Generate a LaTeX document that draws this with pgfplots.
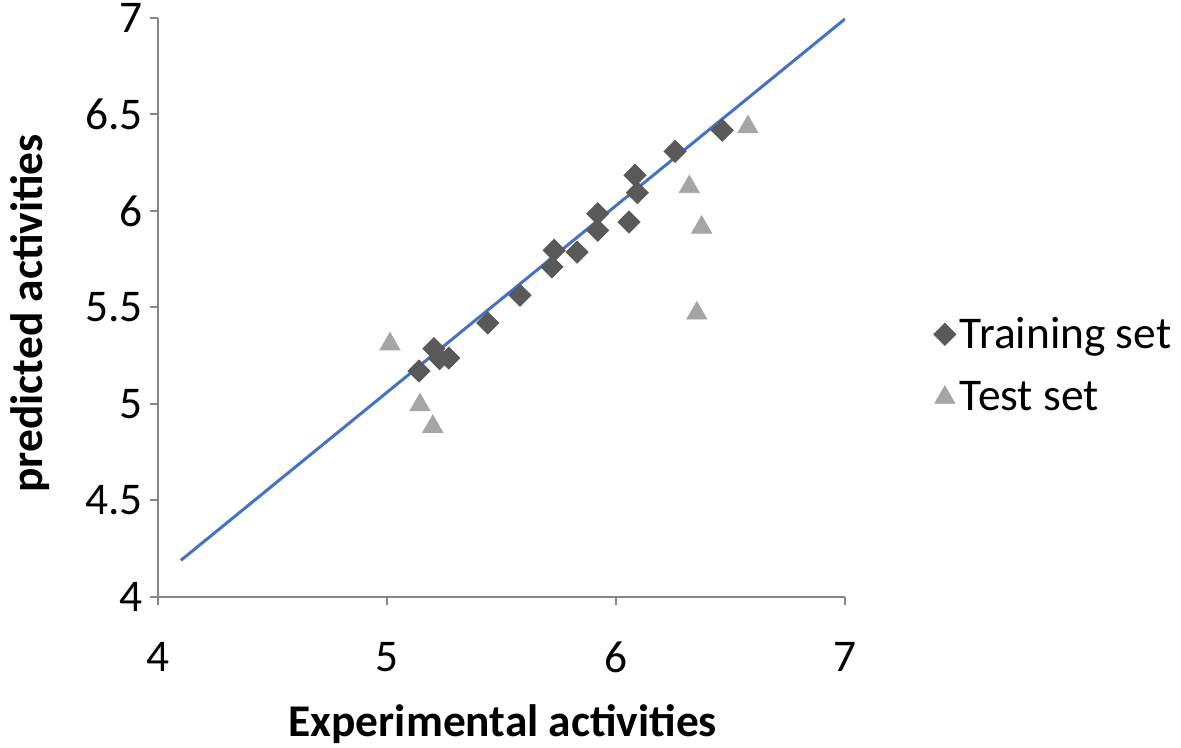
\documentclass[border=0pt]{standalone}
\usepackage{pgfplots}
\pgfplotsset{compat=1.18}
\usepackage{fontspec}
\setmainfont{Carlito}
\definecolor{axisgray}{HTML}{868686}
\definecolor{trainc}{HTML}{595959}
\definecolor{testc}{HTML}{A5A5A5}
\definecolor{fitc}{HTML}{4472C4}
\newcommand\cf{\fontsize{22.7}{27}\selectfont}
\begin{document}
\begin{tikzpicture}
\useasboundingbox (-79pt,-75.5pt) rectangle (511.5pt,298.5pt);
\begin{axis}[
 at={(0,0)}, anchor=south west,
 scale only axis, width=343.5pt, height=289.5pt,
 xmin=4, xmax=7, ymin=4, ymax=7,
 xtick={4,5,6,7}, ytick={4,4.5,5,5.5,6,6.5,7},
 axis x line*=bottom, axis y line*=left,
 axis line style={axisgray, line width=1pt},
 tick style={axisgray, line width=1pt}, tick align=outside, major tick length=4pt,
 /pgf/number format/assume math mode=true,
 tick label style={font=\cf, text=black},
 xticklabel style={anchor=center, yshift=-26pt},
 yticklabel style={anchor=east},
 xlabel={\textbf{Experimental activities}},
 ylabel={\textbf{predicted activities}},
 label style={font=\cf},
 xlabel style={at={(axis description cs:0.502,-0.2193)}, anchor=center},
 ylabel style={at={(axis description cs:-0.1863,0.49)}, anchor=center},
 legend style={at={(1.12,0.40)}, anchor=west, draw=none, font=\cf, row sep=11pt,
   nodes={inner sep=2pt}},
 legend cell align=left,
 legend image code/.code={\draw[#1] plot coordinates {(0pt,0pt)};},
]
\addplot[only marks, mark=square*, mark size=3.9pt, color=trainc,
  every mark/.append style={rotate=45}] coordinates {
(5.14,5.171) (5.205,5.287) (5.23,5.235) (5.27,5.238) (5.44,5.42)
(5.581,5.563) (5.72,5.71) (5.73,5.796) (5.83,5.787) (5.92,5.90)
(5.92,5.986) (6.057,5.943) (6.093,6.095) (6.083,6.185) (6.258,6.309)
(6.464,6.418)
};
\addlegendentry{Training set}
\addplot[only marks, mark=triangle*, mark size=5.8pt, color=testc] coordinates {
(5.013,5.31) (5.144,4.995) (5.20,4.883) (6.32,6.125) (6.374,5.915)
(6.353,5.47) (6.576,6.435)
};
\addlegendentry{Test set}
\addplot[fitc, line width=1.5pt, forget plot] coordinates {(4.1,4.19) (7,6.995)};
\end{axis}
\end{tikzpicture}
\end{document}
